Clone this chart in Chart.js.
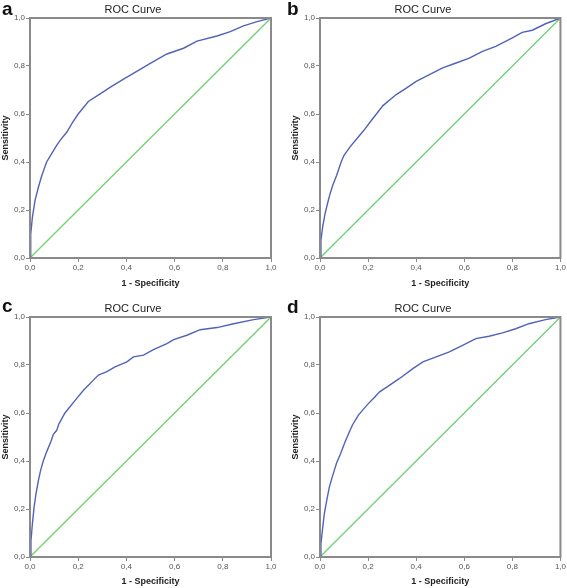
<!DOCTYPE html>
<html>
<head>
<meta charset="utf-8">
<script src="https://cdn.jsdelivr.net/npm/chart.js@4.4.1/dist/chart.umd.min.js"></script>
<style>
  html, body { margin: 0; padding: 0; background: #fff; }
  #wrap { position: relative; width: 567px; height: 588px; }
  #wrap canvas { position: absolute; }
</style>
</head>
<body>
<div id="wrap">
  <canvas id="roc-a" width="283" height="290" style="left:0;top:0"></canvas>
  <canvas id="roc-b" width="284" height="290" style="left:283px;top:0"></canvas>
  <canvas id="roc-c" width="283" height="298" style="left:0;top:290px"></canvas>
  <canvas id="roc-d" width="284" height="298" style="left:283px;top:290px"></canvas>
</div>
<script>
// 1 - specificity (x) and sensitivity (y)
var fprA = [0, 0.003, 0.01, 0.021, 0.035, 0.049, 0.069, 0.09, 0.11, 0.125, 0.153, 0.178, 0.2, 0.242, 0.291, 0.332, 0.388, 0.443, 0.499, 0.568, 0.637, 0.693, 0.776, 0.831, 0.886, 0.942, 1];
var tprA = [0, 0.10, 0.17, 0.24, 0.296, 0.344, 0.40, 0.435, 0.468, 0.49, 0.525, 0.567, 0.60, 0.652, 0.684, 0.711, 0.745, 0.778, 0.811, 0.850, 0.874, 0.904, 0.925, 0.943, 0.967, 0.985, 1];

var fprB = [0, 0.004, 0.011, 0.021, 0.031, 0.042, 0.053, 0.069, 0.088, 0.1, 0.125, 0.153, 0.181, 0.215, 0.262, 0.317, 0.359, 0.40, 0.455, 0.51, 0.566, 0.621, 0.676, 0.731, 0.80, 0.841, 0.883, 0.938, 1];
var tprB = [0, 0.074, 0.129, 0.185, 0.226, 0.268, 0.303, 0.344, 0.40, 0.428, 0.463, 0.497, 0.53, 0.575, 0.635, 0.681, 0.708, 0.736, 0.764, 0.792, 0.8125, 0.833, 0.861, 0.882, 0.917, 0.94, 0.949, 0.976, 1];

var fprC = [0, 0.004, 0.01, 0.017, 0.025, 0.035, 0.044, 0.056, 0.069, 0.086, 0.097, 0.111, 0.12, 0.145, 0.194, 0.222, 0.263, 0.284, 0.319, 0.353, 0.402, 0.429, 0.471, 0.512, 0.568, 0.596, 0.651, 0.706, 0.776, 0.845, 0.928, 1];
var tprC = [0, 0.069, 0.139, 0.208, 0.264, 0.319, 0.361, 0.403, 0.438, 0.479, 0.511, 0.528, 0.555, 0.6, 0.661, 0.695, 0.737, 0.758, 0.772, 0.792, 0.813, 0.834, 0.841, 0.864, 0.889, 0.906, 0.924, 0.947, 0.956, 0.972, 0.989, 1];

var fprD = [0, 0.004, 0.01, 0.018, 0.028, 0.039, 0.053, 0.069, 0.086, 0.104, 0.122, 0.135, 0.159, 0.18, 0.2, 0.225, 0.248, 0.29, 0.331, 0.386, 0.428, 0.483, 0.538, 0.593, 0.648, 0.703, 0.759, 0.814, 0.869, 0.938, 1];
var tprD = [0, 0.056, 0.111, 0.181, 0.236, 0.292, 0.34, 0.392, 0.431, 0.479, 0.521, 0.55, 0.59, 0.615, 0.638, 0.664, 0.688, 0.716, 0.744, 0.785, 0.813, 0.834, 0.855, 0.882, 0.91, 0.92, 0.934, 0.951, 0.972, 0.989, 1];

// reference line
var diagFpr = [0, 1];
var diagTpr = [0, 1];

var tickValues = [0, 0.2, 0.4, 0.6, 0.8, 1];
var tickLabels = ['0,0', '0,2', '0,4', '0,6', '0,8', '1,0'];

var FONT = 'Arial, "Liberation Sans", sans-serif';

var panels = [
  { id: 'roc-a', letter: 'a', fpr: fprA, tpr: tprA, yAxisW: 30, xAxisH: 32, padTop: 18, padRight: 12, titleX: 133, titleY: 10, letterX: 2, letterY: 15, yTitlePad: 0, xTitlePad: 1.3 },
  { id: 'roc-b', letter: 'b', fpr: fprB, tpr: tprB, yAxisW: 37, xAxisH: 32, padTop: 18, padRight: 6, titleX: 140, titleY: 10, letterX: 4, letterY: 15, yTitlePad: 7.3, xTitlePad: 1.3 },
  { id: 'roc-c', letter: 'c', fpr: fprC, tpr: tprC, yAxisW: 30, xAxisH: 31, padTop: 27, padRight: 12, titleX: 133, titleY: 18.5, letterX: 2, letterY: 22, yTitlePad: 0, xTitlePad: 0.9 },
  { id: 'roc-d', letter: 'd', fpr: fprD, tpr: tprD, yAxisW: 37, xAxisH: 31, padTop: 27, padRight: 6, titleX: 140, titleY: 18.5, letterX: 4, letterY: 23, yTitlePad: 7.3, xTitlePad: 0.9 }
];

function toPoints(xs, ys) {
  return xs.map(function(x, i) { return { x: x, y: ys[i] }; });
}

// frame round the plot, panel letter and "ROC Curve" heading
var panelDecor = {
  id: 'panelDecor',
  afterDraw: function(chart) {
    var c = chart.ctx;
    var a = chart.chartArea;
    var p = chart.options.panel;
    c.save();
    c.strokeStyle = '#8a8a8a';
    c.lineWidth = 2;
    c.strokeRect(a.left, a.top, a.right - a.left, a.bottom - a.top);

    c.fillStyle = '#111';
    c.textAlign = 'left';
    c.textBaseline = 'alphabetic';
    c.font = 'bold 19px ' + FONT;
    c.fillText(p.letter, p.letterX, p.letterY);

    c.fillStyle = '#222';
    c.textAlign = 'center';
    c.textBaseline = 'middle';
    c.font = '11px ' + FONT;
    c.fillText('ROC Curve', p.titleX, p.titleY);
    c.restore();
  }
};

function axisOptions(p, isX) {
  return {
    type: 'linear',
    min: 0,
    max: 1,
    afterBuildTicks: function(scale) {
      scale.ticks = tickValues.map(function(v) { return { value: v }; });
    },
    ticks: {
      callback: function(value, index) { return tickLabels[index]; },
      font: { family: FONT, size: 8 },
      color: '#555',
      padding: 1,
      maxRotation: 0,
      autoSkip: false
    },
    grid: { drawOnChartArea: false, drawTicks: true, tickLength: 4, color: '#888', lineWidth: 1 },
    border: { display: false },
    title: {
      display: true,
      text: isX ? '1 - Specificity' : 'Sensitivity',
      font: { family: FONT, size: 9, weight: 'bold' },
      color: '#222',
      padding: isX ? { top: 0, bottom: p.xTitlePad } : { top: p.yTitlePad, bottom: 0 }
    },
    afterFit: function(scale) {
      if (isX) scale.height = p.xAxisH; else scale.width = p.yAxisW;
    }
  };
}

function mountRocChart(p) {
  var ctx = document.getElementById(p.id);
  new Chart(ctx, {
    type: 'line',
    data: {
      datasets: [
        { data: toPoints(p.fpr, p.tpr), borderColor: '#5163b8', borderWidth: 1.4, pointRadius: 0, tension: 0, fill: false },
        { data: toPoints(diagFpr, diagTpr), borderColor: '#6fd06f', borderWidth: 1.3, pointRadius: 0, tension: 0, fill: false }
      ]
    },
    options: {
      panel: p,
      responsive: false,
      animation: false,
      events: [],
      layout: { padding: { left: 0, right: p.padRight, top: p.padTop, bottom: 0 } },
      plugins: { legend: { display: false }, tooltip: { enabled: false } },
      scales: { x: axisOptions(p, true), y: axisOptions(p, false) }
    },
    plugins: [panelDecor]
  });
}

panels.forEach(mountRocChart);
</script>
</body>
</html>
